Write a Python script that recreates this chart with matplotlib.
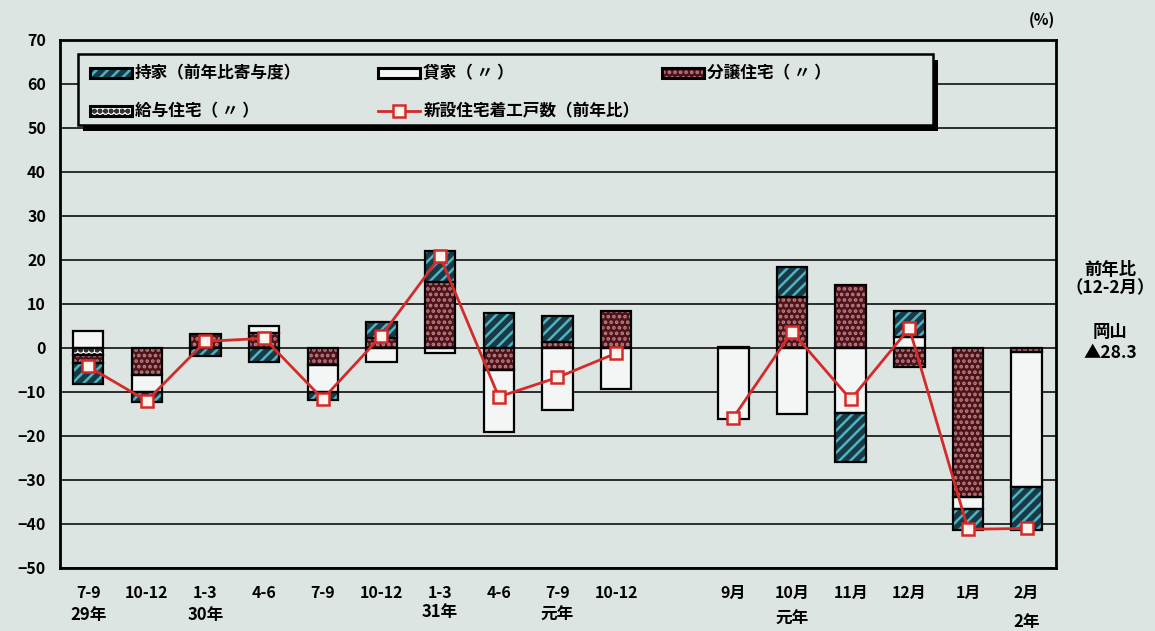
import numpy as np
import matplotlib
matplotlib.use("Agg")
import matplotlib.pyplot as plt
from matplotlib.patches import Rectangle
from matplotlib.lines import Line2D

plt.rcParams['font.family'] = ['Noto Sans CJK JP', 'DejaVu Sans']
plt.rcParams['font.weight'] = 'bold'
plt.rcParams['hatch.linewidth'] = 1.8

# ---- data -------------------------------------------------------------
periods = ['7-9', '10-12', '1-3', '4-6', '7-9', '10-12', '1-3', '4-6', '7-9', '10-12',
           '9月', '10月', '11月', '12月', '1月', '2月']
positions = [0, 1, 2, 3, 4, 5, 6, 7, 8, 9, 11, 12, 13, 14, 15, 16]
year_labels = {0: '29年', 2: '30年', 6: '31年', 8: '元年', 11: '元年', 15: '2年'}

# contribution to year-on-year change (points), by tenure type
owner = [-4.7, -2.3, -1.8, -3.1, -1.9, 3.8, 7.0, 8.0, 5.9, 0.0,
         0.3, 6.8, -11.1, 6.0, -4.7, -9.9]            # 持家
rental = [3.9, -3.8, 0.0, 1.6, -6.1, -3.1, -1.1, -14.2, -14.2, -9.4,
          -16.1, -15.0, -14.8, 2.5, -2.9, -30.5]      # 貸家
condo = [-2.0, -6.1, 3.2, 3.5, -3.8, 2.2, 15.1, -5.0, 1.4, 8.3,
         0.0, 11.7, 14.3, -4.4, -33.8, -1.0]          # 分譲住宅
company = [-1.5, 0.0, 0.0, 0.0, 0.0, 0.0, 0.0, 0.0, 0.0, 0.0,
           0.0, 0.0, 0.0, 0.0, 0.0, 0.0]              # 給与住宅
# housing starts, year-on-year change (%)
starts = [-4.2, -12.0, 1.5, 2.2, -11.6, 2.8, 20.8, -11.1, -6.7, -1.2,
          -15.8, 3.7, -11.7, 4.5, -41.2, -41.0]
quarter_count = 10

# ---- styles -----------------------------------------------------------
bg = '#dde5e2'
series = [
    # values, face, hatch, hatch colour
    (company, '#f4f6f3', 'ooo', '#333333'),
    (condo, '#4e1219', '...', '#b98089'),
    (rental, '#f3f6f4', None, '#f3f6f4'),
    (owner, '#173a44', '///', '#4fb3c6'),
]

fig = plt.figure(figsize=(11.55, 6.31), dpi=100, facecolor=bg)
ax = fig.add_axes([60 / 1155, 63 / 631, 996 / 1155, 528 / 631])
ax.set_facecolor(bg)

x = np.array(positions, dtype=float)
width = 0.52
pos_base = np.zeros(len(x))
neg_base = np.zeros(len(x))
for vals, face, hatch, hcol in series:
    v = np.array(vals, dtype=float)
    bottom = np.where(v >= 0, pos_base, neg_base)
    m = v != 0
    ax.bar(x[m], v[m], width=width, bottom=bottom[m], facecolor=face,
           edgecolor=hcol, hatch=hatch, linewidth=0, zorder=2)
    ax.bar(x[m], v[m], width=width, bottom=bottom[m], fill=False,
           edgecolor='black', linewidth=1.6, zorder=2.5)
    pos_base = np.where(v > 0, pos_base + v, pos_base)
    neg_base = np.where(v < 0, neg_base + v, neg_base)

line_kw = dict(color='#d42a2a', linewidth=2.0, marker='s', markersize=8,
               markerfacecolor='#fff4ee', markeredgecolor='#d42a2a',
               markeredgewidth=1.8, zorder=4)
ax.plot(x[:quarter_count], starts[:quarter_count], **line_kw)
ax.plot(x[quarter_count:], starts[quarter_count:], **line_kw)

# ---- axes -------------------------------------------------------------
ax.set_xlim(-0.48, 16.5)
ax.set_ylim(-50, 70)
ax.set_yticks(np.arange(-50, 71, 10))
ax.yaxis.grid(True, color='#2e2e2e', linewidth=1.4)
ax.set_axisbelow(True)
ax.tick_params(axis='both', length=0, labelsize=11.5)
ax.tick_params(axis='y', pad=10)
ax.tick_params(axis='x', pad=12)
ax.set_xticks(x)
ax.set_xticklabels(periods)
for sp in ax.spines.values():
    sp.set_linewidth(2.0)
    sp.set_color('black')

year_y = {0: 615, 2: 615, 6: 612, 8: 615, 11: 619, 15: 622}
for idx, lab in year_labels.items():
    ax.text(positions[idx], (568 - year_y[idx]) / 528, lab,
            transform=ax.get_xaxis_transform(), ha='center', va='center',
            fontsize=12, fontweight='bold', clip_on=False)

fig.text(1042 / 1155, 1 - 20 / 631, '(%)', ha='center', va='center',
         fontsize=11, fontweight='bold')
side = [('前年比', 270), ('（12-2月）', 288), ('岡山', 332), ('▲28.3', 353)]
for s, py in side:
    fig.text(1110 / 1155, 1 - py / 631, s, ha='center', va='center',
             fontsize=12.5, fontweight='bold')


# ---- legend -----------------------------------------------------------
def af(px, py):
    return ((px - 60) / 996, (568 - py) / 528)


x0, y0 = af(78, 125)
x1, y1 = af(933, 54)
ax.add_patch(Rectangle(af(83, 131), x1 - x0, y1 - y0, transform=ax.transAxes,
                       facecolor='black', edgecolor='none', zorder=6))
ax.add_patch(Rectangle((x0, y0), x1 - x0, y1 - y0, transform=ax.transAxes,
                       facecolor=bg, edgecolor='black', linewidth=1.8, zorder=7))

hw, hh = 42 / 996, 10 / 528
entries = [
    (90, 73, '持家（前年比寄与度）', series[3]),
    (378, 73, '貸家（ 〃 ）', series[2]),
    (662, 73, '分譲住宅（ 〃 ）', series[1]),
    (90, 111, '給与住宅（ 〃 ）', series[0]),
]
for px, py, label, (vals, face, hatch, hcol) in entries:
    hx, hy = af(px, py + 5)
    ax.add_patch(Rectangle((hx, hy), hw, hh, transform=ax.transAxes,
                           facecolor=face, edgecolor=hcol, hatch=hatch,
                           linewidth=0, zorder=8))
    ax.add_patch(Rectangle((hx, hy), hw, hh, transform=ax.transAxes,
                           fill=False, edgecolor='black', linewidth=2.2, zorder=8.5))
    tx, ty = af(px + 45, py)
    ax.text(tx, ty, label, transform=ax.transAxes, ha='left', va='center',
            fontsize=12, fontweight='bold', zorder=9)

lx0, ly = af(378, 111)
lx1, _ = af(420, 111)
lxm, _ = af(399, 111)
ax.add_line(Line2D([lx0, lx1], [ly, ly], transform=ax.transAxes,
                   color='#d42a2a', linewidth=2.0, zorder=8))
ax.add_line(Line2D([lxm], [ly], transform=ax.transAxes, marker='s',
                   markersize=8, markerfacecolor='#fff4ee',
                   markeredgecolor='#d42a2a', markeredgewidth=1.8,
                   linestyle='none', zorder=8.5))
tx, ty = af(424, 111)
ax.text(tx, ty, '新設住宅着工戸数（前年比）', transform=ax.transAxes, ha='left',
        va='center', fontsize=12, fontweight='bold', zorder=9)

fig.savefig('out.png', dpi=100, facecolor=bg)
